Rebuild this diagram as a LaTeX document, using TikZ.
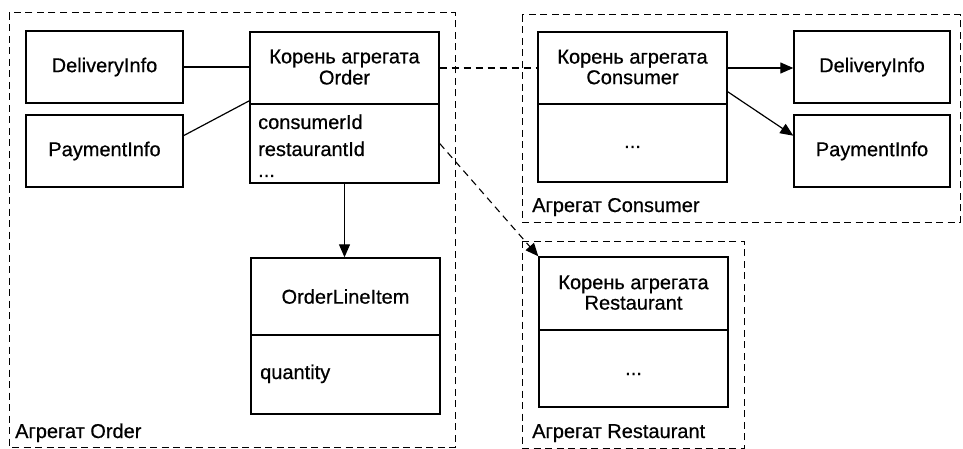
\documentclass[tikz,border=0pt]{standalone}
\usepackage{fontspec}
\setmainfont{Liberation Sans}[FakeBold=0.6,AutoFakeBold=0.6]
\usetikzlibrary{arrows.meta}
\begin{document}
\begin{tikzpicture}[x=1pt,y=-1pt,
  every node/.style={font=\fontsize{20}{21}\selectfont\bfseries, inner sep=0pt},
  box/.style={draw, line width=1.4pt, rectangle, align=center},
  agg/.style={draw, line width=1pt, dash pattern=on 7pt off 4.5pt},
  conn/.style={line width=1.2pt},
  arr/.style={line width=1.2pt, -{Triangle[length=13pt,width=11pt]}},
  dconn/.style={line width=1.1pt, dash pattern=on 7pt off 5pt},
  lbl/.style={anchor=base west}
]
\useasboundingbox (0,0) rectangle (963,449);
% aggregate boundaries
\draw[agg] (9,13) rectangle (455,447);
\draw[agg] (522,15) rectangle (960,222);
\draw[agg] (522,241) rectangle (744,448);

% Order aggregate
\node[box, minimum width=157pt, minimum height=72pt] (dl) at (104.5,67) {DeliveryInfo};
\node[box, minimum width=157pt, minimum height=72pt] (pl) at (104.5,151) {PaymentInfo};
\node[box, minimum width=189pt, minimum height=72pt] (oh) at (344.5,68) {\raisebox{2pt}{\shortstack{Корень агрегата\\[-0.5pt]Order}}};
\node[box, minimum width=189pt, minimum height=79pt] (ob) at (344.5,143.5) {};
\node[lbl] (t1) at (258,129) {consumerId};
\node[lbl] (t2) at (258,156) {restaurantId};
\node[lbl] (t3) at (258,177) {...};
\node[box, minimum width=189pt, minimum height=77pt] (lh) at (345.5,296.5) {OrderLineItem};
\node[box, minimum width=189pt, minimum height=79pt] (lb) at (345.5,374.5) {};
\node[lbl] (t4) at (260,379) {quantity};
\node[lbl] (ao) at (15,438) {Агрегат Order};

% Consumer aggregate
\node[box, minimum width=189pt, minimum height=72pt] (ch) at (632.5,68) {\raisebox{2pt}{\shortstack{Корень агрегата\\[-0.5pt]Consumer}}};
\node[box, minimum width=189pt, minimum height=78pt] (cb) at (632.5,143) {};
\node[anchor=base] (t5) at (632.5,148) {...};
\node[box, minimum width=156pt, minimum height=72pt] (dr) at (872,67) {DeliveryInfo};
\node[box, minimum width=156pt, minimum height=72pt] (pr) at (872,151) {PaymentInfo};
\node[lbl] (ac) at (532,212) {Агрегат Consumer};

% Restaurant aggregate
\node[box, minimum width=189pt, minimum height=73pt] (rh) at (633.5,293.5) {\raisebox{2pt}{\shortstack{Корень агрегата\\[-0.5pt]Restaurant}}};
\node[box, minimum width=189pt, minimum height=77pt] (rb) at (633.5,368.5) {};
\node[anchor=base] (t6) at (633.5,375) {...};
\node[lbl] (ar) at (532,438) {Агрегат Restaurant};

% connectors
\draw[conn] (dl.east) -- (dl.east -| oh.west);
\draw[conn] (pl.11.5) -- (oh.199.25);
\draw[arr] (ob.south) -- (ob.south |- lh.north);
\draw[dconn] (oh.east) -- (ch.west);
\draw[dconn, -{Triangle[length=13pt,width=11pt]}] (ob.east) -- (rh.north west);
\draw[arr] (ch.east) -- (ch.east -| dr.west);
\draw[arr] (ch.-14.8) -- (pr.169.8);
\end{tikzpicture}
\end{document}
